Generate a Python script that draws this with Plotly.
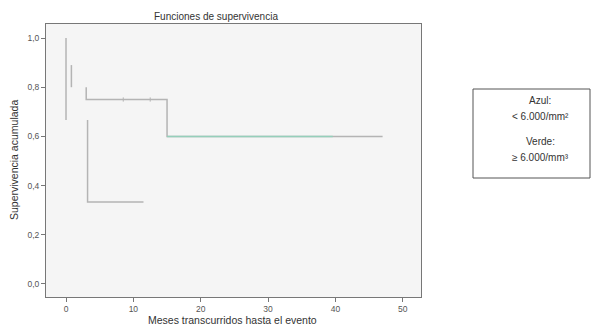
import plotly.graph_objects as go

# Kaplan-Meier step data; None breaks segments
grp1_t = [0, 0, None, 3.2, 3.2, 11.5]
grp1_s = [1.0, 0.667, None, 0.667, 0.333, 0.333]

grp2_t = [0.8, 0.8, None, 3.0, 3.0, 15.0, 15.0, 47.0]
grp2_s = [0.89, 0.80, None, 0.80, 0.75, 0.75, 0.60, 0.60]

teal_t = [15.0, 39.6]
teal_s = [0.60, 0.60]

censor_t = [8.5, 12.5]
censor_s = [0.75, 0.75]

x_ticks = [0, 10, 20, 30, 40, 50]
y_ticks = [0.0, 0.2, 0.4, 0.6, 0.8, 1.0]
y_labels = ["0,0", "0,2", "0,4", "0,6", "0,8", "1,0"]

FONT = "Liberation Sans, Arial, sans-serif"
GRAY = "#b4b4b4"
L, R, T, B = 46, 421, 24, 297
PW, PH = R - L, B - T

fig = go.Figure()
fig.add_trace(go.Scatter(x=grp1_t, y=grp1_s, mode="lines",
                         line=dict(color=GRAY, width=1.5), connectgaps=False,
                         showlegend=False, hoverinfo="skip"))
fig.add_trace(go.Scatter(x=grp2_t, y=grp2_s, mode="lines",
                         line=dict(color=GRAY, width=1.5), connectgaps=False,
                         showlegend=False, hoverinfo="skip"))
fig.add_trace(go.Scatter(x=teal_t, y=teal_s, mode="lines",
                         line=dict(color="#95cfba", width=1.5),
                         showlegend=False, hoverinfo="skip"))
fig.add_trace(go.Scatter(x=censor_t, y=censor_s, mode="markers",
                         marker=dict(symbol="line-ns", size=3,
                                     line=dict(color=GRAY, width=1)),
                         showlegend=False, hoverinfo="skip"))

fig.update_layout(
    width=592, height=329,
    margin=dict(l=L, r=592 - R, t=T, b=329 - B),
    paper_bgcolor="white",
    plot_bgcolor="#f5f5f5",
    separators=",.",
    font=dict(family=FONT, size=8.5, color="#555555"),
    showlegend=False,
    xaxis=dict(range=[-2.97, 52.7], tickvals=x_ticks, ticks="outside",
               ticklen=4, tickcolor="#777777", showgrid=False, zeroline=False,
               showline=True, linecolor="#777777", mirror=True,
               automargin=False),
    yaxis=dict(range=[-0.053, 1.057], tickvals=y_ticks, ticktext=y_labels,
               ticks="outside", ticklen=4, tickcolor="#777777",
               showgrid=False, zeroline=False, showline=True,
               linecolor="#777777", mirror=True, automargin=False),
)

def px_ann(text, xpx, ypx, size, angle=0):
    fig.add_annotation(text=text, xref="paper", yref="paper",
                       x=(xpx - L) / PW, y=(B - ypx) / PH,
                       xanchor="center", yanchor="middle", showarrow=False,
                       textangle=angle,
                       font=dict(family=FONT, size=size, color="#333333"))

px_ann("Funciones de supervivencia", 216, 16, 10)
px_ann("Meses transcurridos hasta el evento", 232, 320, 10.5)
px_ann("Supervivencia acumulada", 14, 160, 10.5, angle=-90)

fig.add_shape(type="rect", xref="paper", yref="paper",
              x0=(473 - L) / PW, x1=(590 - L) / PW,
              y0=(B - 178) / PH, y1=(B - 89) / PH,
              line=dict(color="#555555", width=1), fillcolor="white")

legend_lines = [("Azul:", 100), ("&lt; 6.000/mm²", 116),
                ("Verde:", 141), ("≥ 6.000/mm³", 157)]
for txt, ypx in legend_lines:
    px_ann(txt, 540, ypx, 10)

fig.write_html("out.html")
